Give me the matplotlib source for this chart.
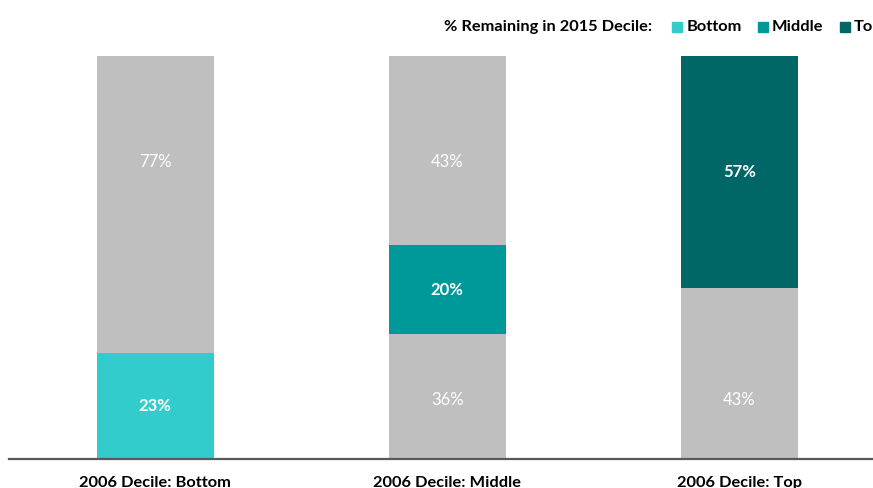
import matplotlib.pyplot as plt
from matplotlib.patches import Rectangle

# data (segment heights, labels as printed)
groups = ['2006 Decile: Bottom', '2006 Decile: Middle', '2006 Decile: Top']
seg_heights = [
    [0.263, 0.737],
    [0.309, 0.221, 0.470],
    [0.425, 0.575],
]
seg_labels = [
    ['23%', '77%'],
    ['36%', '20%', '43%'],
    ['43%', '57%'],
]
seg_kind = [
    ['Bottom', 'grey'],
    ['grey', 'Middle', 'grey'],
    ['grey', 'Top'],
]
legend_names = ['Bottom', 'Middle', 'Top']

colors = {'Bottom': '#33CCCC', 'Middle': '#009999', 'Top': '#006666', 'grey': '#BFBFBF'}

plt.rcParams['font.family'] = ['Lato', 'DejaVu Sans']

fig = plt.figure(figsize=(8.73, 4.88), dpi=100)
ax = fig.add_axes([0.0103, 0.0594, 0.9897, 0.8268])

for i in range(len(groups)):
    bottom = 0
    n = len(seg_heights[i])
    for j, (h, lab, kind) in enumerate(zip(seg_heights[i], seg_labels[i], seg_kind[i])):
        ax.bar(i, h, bottom=bottom, width=0.4, color=colors[kind], edgecolor='none')
        if kind == 'grey':
            # grey labels sit at fixed heights in the original
            ypos = 0.146 if j == 0 else 0.736
            weight = 'normal'
        else:
            ypos = bottom + h / 2
            weight = 'bold'
        ax.text(i, ypos, lab, ha='center', va='center', color='white',
                fontsize=12, fontweight=weight)
        bottom += h

ax.set_xlim(-0.5, 2.457)
ax.set_ylim(0, 1)
for s in ['top', 'right', 'left']:
    ax.spines[s].set_visible(False)
ax.spines['bottom'].set_color('#595959')
ax.spines['bottom'].set_linewidth(1.6)
ax.set_yticks([])
ax.set_xticks(range(len(groups)))
ax.set_xticklabels(groups, fontsize=11.8, fontweight='bold', color='black')
ax.tick_params(axis='x', length=0, pad=12)

# legend line at the top, running off the right edge
ly = 1 - 27 / 488
fig.text(652 / 873, ly, '% Remaining in 2015 Decile:', ha='right', va='center',
         fontsize=11.8, fontweight='bold')
sq_x = [672, 758, 840]
txt_x = [687, 772, 854]
for name, sx, tx in zip(legend_names, sq_x, txt_x):
    fig.patches.append(Rectangle((sx / 873, ly - 4.5 / 488), 9.5 / 873, 9.5 / 488,
                                 transform=fig.transFigure, color=colors[name]))
    fig.text(tx / 873, ly, name, ha='left', va='center', fontsize=11.8, fontweight='bold')

fig.savefig('out.png', dpi=100)
